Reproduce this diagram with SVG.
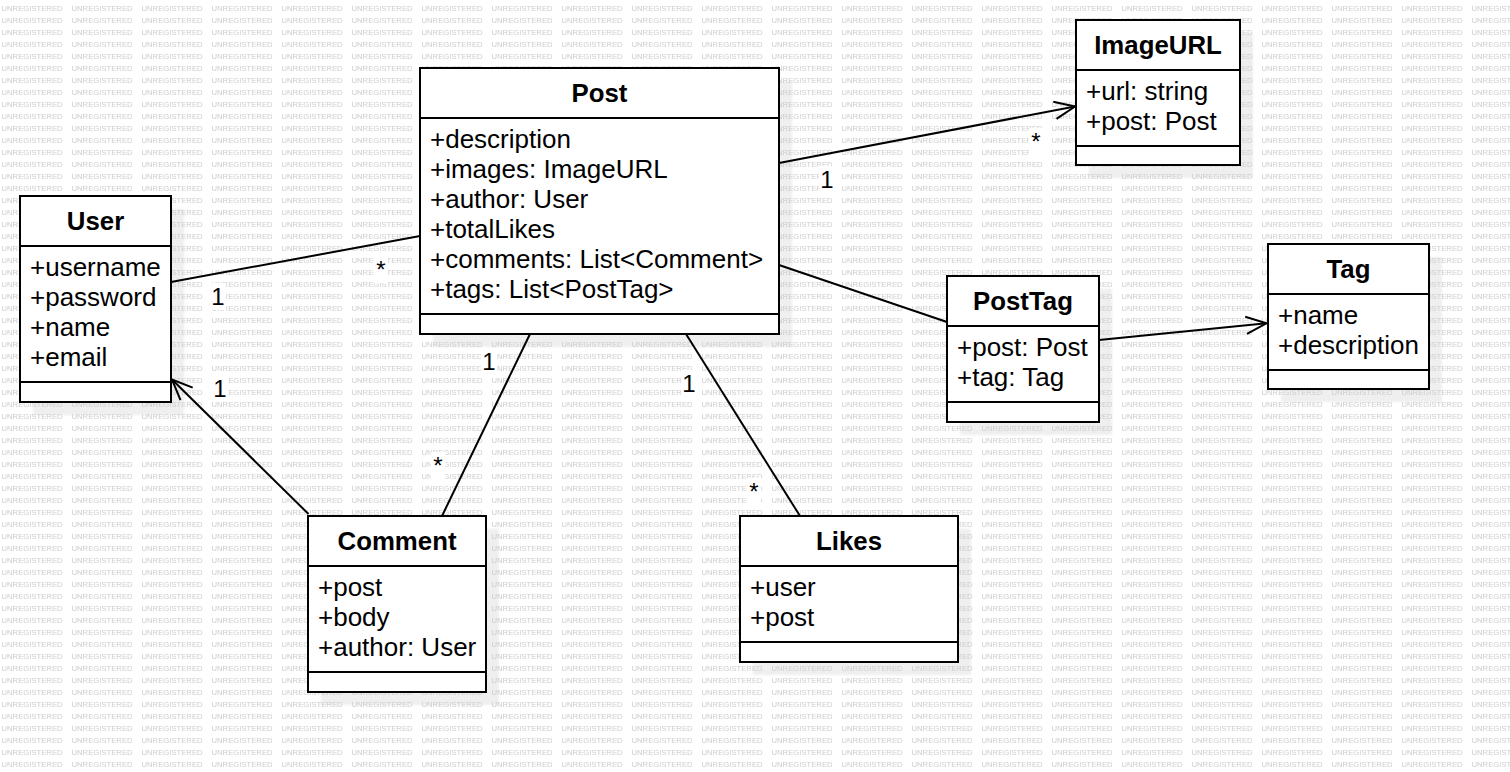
<svg xmlns="http://www.w3.org/2000/svg" width="1510" height="772" viewBox="0 0 1510 772">
<style>
  .wm { font-family: "Liberation Sans", Arial, sans-serif; font-size: 7.7px; fill: #cdcdcd; }
  .box { fill: #ffffff; stroke: #000000; stroke-width: 2; }
  .sh { fill: #efefef; }
  .sep { stroke: #000000; stroke-width: 2; }
  .title { font-family: "Liberation Sans", Arial, sans-serif; font-size: 25.8px; font-weight: bold; text-anchor: middle; fill: #000; }
  .attr { font-family: "Liberation Sans", Arial, sans-serif; font-size: 26px; fill: #000; }
  .edge { stroke: #000000; stroke-width: 2; fill: none; }
  .lbl { font-family: "Liberation Sans", Arial, sans-serif; font-size: 24px; text-anchor: middle; fill: #000; }
  .lblbg { fill: #ffffff; }
</style>
<defs>
  <pattern id="wmPattern" width="70" height="12" patternUnits="userSpaceOnUse">
    <text x="1.5" y="10.8" class="wm">UNREGISTERED</text>
  </pattern>
  <filter id="blur" x="-10%" y="-10%" width="120%" height="120%">
    <feGaussianBlur stdDeviation="1.2"/>
  </filter>
  <marker id="openArrow" markerUnits="userSpaceOnUse" orient="auto" refX="0" refY="0" markerWidth="30" markerHeight="30" style="overflow:visible">
    <path d="M -20.5 -8.7 L 0 0 L -20.5 8.7" fill="none" stroke="#000" stroke-width="2"/>
  </marker>
</defs>

<rect x="0" y="0" width="1510" height="772" fill="#ffffff"/>

<g id="shadows" filter="url(#blur)">
  <rect class="sh" x="433" y="81" width="359" height="266"/>
  <rect class="sh" x="33" y="209" width="151" height="206"/>
  <rect class="sh" x="1089" y="33" width="164" height="145"/>
  <rect class="sh" x="1281" y="257" width="161" height="145"/>
  <rect class="sh" x="960" y="289" width="152" height="146"/>
  <rect class="sh" x="321" y="529" width="178" height="176"/>
  <rect class="sh" x="753" y="529" width="218" height="146"/>
</g>

<rect x="0" y="0" width="1510" height="772" fill="url(#wmPattern)"/>

<g id="connectors">
  <line class="edge" x1="171" y1="282" x2="420" y2="236"/>
  <line class="edge" x1="779" y1="163" x2="1075" y2="106.5" marker-end="url(#openArrow)"/>
  <line class="edge" x1="779" y1="265" x2="947" y2="322"/>
  <line class="edge" x1="1099" y1="340" x2="1266.5" y2="323.3" marker-end="url(#openArrow)"/>
  <line class="edge" x1="308.5" y1="514" x2="172" y2="379.5" marker-end="url(#openArrow)"/>
  <line class="edge" x1="530" y1="334" x2="442" y2="516"/>
  <line class="edge" x1="686" y1="334" x2="800" y2="516"/>
</g>

<g id="labels">
  <rect class="lblbg" x="210" y="283" width="16" height="27"/>
  <text class="lbl" x="218" y="305">1</text>
  <rect class="lblbg" x="374" y="256" width="14" height="27"/>
  <text class="lbl" x="381" y="278">*</text>
  <rect class="lblbg" x="212" y="375" width="16" height="27"/>
  <text class="lbl" x="220" y="397">1</text>
  <rect class="lblbg" x="819" y="166" width="16" height="27"/>
  <text class="lbl" x="827" y="188">1</text>
  <rect class="lblbg" x="1029" y="128" width="14" height="27"/>
  <text class="lbl" x="1036" y="150">*</text>
  <rect class="lblbg" x="481" y="348" width="16" height="27"/>
  <text class="lbl" x="489" y="370">1</text>
  <rect class="lblbg" x="431" y="452" width="14" height="27"/>
  <text class="lbl" x="438" y="474">*</text>
  <rect class="lblbg" x="681" y="370" width="16" height="27"/>
  <text class="lbl" x="689" y="392">1</text>
  <rect class="lblbg" x="747" y="478" width="14" height="27"/>
  <text class="lbl" x="754" y="500">*</text>
</g>

<g id="Post">
  <rect class="box" x="420" y="68" width="359" height="266"/>
  <line class="sep" x1="420" y1="118" x2="779" y2="118"/>
  <line class="sep" x1="420" y1="314" x2="779" y2="314"/>
  <text class="title" x="599.5" y="102">Post</text>
  <text class="attr" x="430" y="147.5">+description</text>
  <text class="attr" x="430" y="177.5">+images: ImageURL</text>
  <text class="attr" x="430" y="207.5">+author: User</text>
  <text class="attr" x="430" y="237.5">+totalLikes</text>
  <text class="attr" x="430" y="267.5">+comments: List&lt;Comment&gt;</text>
  <text class="attr" x="430" y="297.5">+tags: List&lt;PostTag&gt;</text>
</g>

<g id="User">
  <rect class="box" x="20" y="196" width="151" height="206"/>
  <line class="sep" x1="20" y1="246" x2="171" y2="246"/>
  <line class="sep" x1="20" y1="382" x2="171" y2="382"/>
  <text class="title" x="95.5" y="230">User</text>
  <text class="attr" x="30" y="275.5">+username</text>
  <text class="attr" x="30" y="305.5">+password</text>
  <text class="attr" x="30" y="335.5">+name</text>
  <text class="attr" x="30" y="365.5">+email</text>
</g>

<g id="ImageURL">
  <rect class="box" x="1076" y="20" width="164" height="145"/>
  <line class="sep" x1="1076" y1="70" x2="1240" y2="70"/>
  <line class="sep" x1="1076" y1="146" x2="1240" y2="146"/>
  <text class="title" x="1158" y="54">ImageURL</text>
  <text class="attr" x="1086" y="99.5">+url: string</text>
  <text class="attr" x="1086" y="129.5">+post: Post</text>
</g>

<g id="Tag">
  <rect class="box" x="1268" y="244" width="161" height="145"/>
  <line class="sep" x1="1268" y1="294" x2="1429" y2="294"/>
  <line class="sep" x1="1268" y1="370" x2="1429" y2="370"/>
  <text class="title" x="1348.5" y="278">Tag</text>
  <text class="attr" x="1278" y="323.5">+name</text>
  <text class="attr" x="1278" y="353.5">+description</text>
</g>

<g id="PostTag">
  <rect class="box" x="947" y="276" width="152" height="146"/>
  <line class="sep" x1="947" y1="326" x2="1099" y2="326"/>
  <line class="sep" x1="947" y1="402" x2="1099" y2="402"/>
  <text class="title" x="1023" y="310">PostTag</text>
  <text class="attr" x="957" y="355.5">+post: Post</text>
  <text class="attr" x="957" y="385.5">+tag: Tag</text>
</g>

<g id="Comment">
  <rect class="box" x="308" y="516" width="178" height="176"/>
  <line class="sep" x1="308" y1="566" x2="486" y2="566"/>
  <line class="sep" x1="308" y1="672" x2="486" y2="672"/>
  <text class="title" x="397" y="550">Comment</text>
  <text class="attr" x="318" y="595.5">+post</text>
  <text class="attr" x="318" y="625.5">+body</text>
  <text class="attr" x="318" y="655.5">+author: User</text>
</g>

<g id="Likes">
  <rect class="box" x="740" y="516" width="218" height="146"/>
  <line class="sep" x1="740" y1="566" x2="958" y2="566"/>
  <line class="sep" x1="740" y1="642" x2="958" y2="642"/>
  <text class="title" x="849" y="550">Likes</text>
  <text class="attr" x="750" y="595.5">+user</text>
  <text class="attr" x="750" y="625.5">+post</text>
</g>
</svg>
